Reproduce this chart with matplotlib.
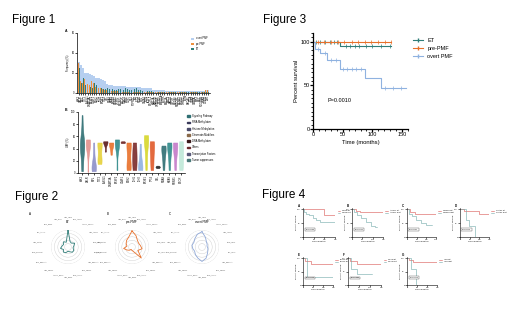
import matplotlib
matplotlib.use("Agg")
import matplotlib.pyplot as plt
import numpy as np

W, H = 520, 314
plt.rcParams["font.family"] = ["Liberation Sans", "DejaVu Sans"]

# ---------------- Figure 1A: mutation counts per gene ----------------
genes_1a = ["JAK2", "CALR", "MPL", "TET2", "ASXL1", "DNMT3A", "SRSF2", "U2AF1", "EZH2", "IDH1",
            "IDH2", "SF3B1", "TP53", "CBL", "NRAS", "KRAS", "SH2B3", "RUNX1", "ZRSR2", "SETBP1",
            "BCOR", "STAG2", "PHF6", "CUX1", "NF1", "PTPN11", "KIT", "FLT3", "NPM1", "WT1",
            "GATA2", "ETV6", "IKZF1", "BCORL1", "KMT2A", "KMT2D", "CREBBP", "EP300", "ARID1A", "ATRX",
            "SMC1A", "SMC3", "RAD21", "CSF3R", "MYD88", "NOTCH1", "FBXW7", "PPM1D", "CHEK2", "ATM",
            "BRCA2", "PIGA", "GNAS", "CEBPA", "JAK3", "MYC", "PDGFRA", "HRAS", "DDX41", "LNK"]
overt_1a = [31, 28, 25, 20, 20, 19, 18, 17, 15, 15, 14, 13, 12, 9, 8, 8, 7, 7, 7, 7,
            7, 7, 6, 6, 6, 6, 6, 6, 6, 5, 5, 5, 5, 5, 3, 3, 3, 3, 3, 3,
            2, 2, 2, 2, 2, 2, 2, 2, 2, 2, 2, 2, 2, 2, 2, 2, 2, 2, 3, 3]
pre_1a = [30, 12, 10, 14, 9, 8, 12, 10, 6, 5, 5, 4, 3, 3, 2, 2, 2, 2, 2, 1,
          1, 1, 1, 1, 1, 1, 1, 1, 1, 1, 1, 1, 1, 1, 1, 1, 1, 1, 1, 1,
          1, 1, 1, 1, 1, 1, 1, 1, 1, 1, 1, 1, 1, 1, 1, 1, 1, 1, 3, 3]
et_1a = [25, 10, 15, 8, 12, 6, 5, 10, 8, 6, 5, 4, 4, 5, 4, 4, 3, 3, 4, 4,
         3, 5, 4, 3, 3, 4, 5, 3, 3, 2, 2, 2, 2, 2, 1, 1, 1, 1, 1, 1,
         1, 1, 1, 1, 1, 1, 1, 1, 1, 1, 1, 1, 1, 1, 1, 1, 1, 1, 1, 1]

# ---------------- Figure 1B: VAF violins ----------------
genes_1b = ["JAK2", "CALR", "MPL", "TET2", "ASXL1", "DNMT3A", "SRSF2", "U2AF1", "EZH2",
            "IDH1", "IDH2", "SF3B1", "TP53", "CBL", "NRAS", "KRAS", "RUNX1", "BCOR"]
vaf_1b = [
    [3, 5, 10, 20, 30, 35, 38, 40, 42, 45, 45, 48, 50, 52, 55, 60, 70, 85, 95],
    [2, 30, 40, 45, 48, 50, 52, 53, 55],
    [3, 5, 6, 8, 10, 12, 20, 35, 50],
    [15, 18, 20, 22, 35, 47, 48, 50, 50],
    [35, 48, 50, 51, 52, 52],
    [30, 40, 45, 48, 50, 50],
    [5, 40, 45, 50, 52, 55, 55],
    [49, 50, 51, 52],
    [5, 8, 10, 12, 30, 45, 48, 50, 50],
    [5, 25, 50],
    [5, 6, 8, 10, 15, 30, 48],
    [5, 20, 40, 50, 55, 58, 60, 62],
    [5, 15, 30, 45, 50, 52],
    [8, 9, 10, 10, 11, 12],
    [5, 20, 35, 40, 42, 45],
    [5, 25, 40, 45, 48, 50],
    [5, 30, 45, 48, 50],
    [5, 10, 20, 30, 40, 50, 52],
]
colors_1b = ["#2f6f73", "#e3908c", "#8c8fc8", "#e6d13a", "#5a1a1a", "#e8702a", "#2f8a8a", "#6b2020",
             "#e8702a", "#7a2a2a", "#8fb2e0", "#d6d62a", "#e05a2a", "#222222", "#2f6f73", "#2f8a8a",
             "#c47ac8", "#bfe8d8"]
pathways = ["Signaling Pathway", "RNA Methylation", "Histone Methylation", "Chromatin Modifiers",
            "DNA Methylation", "Others", "Transcription Factors", "Tumor suppressors"]
pathway_colors = ["#2f6f73", "#3a3a5a", "#4a4a6a", "#8a6a4a", "#3a1a1a", "#6a2a2a", "#5a5a7a", "#4a7a7a"]

# ---------------- Figure 2: radar charts ----------------
pairs = ["JAK2_TET2", "TET2_ASXL1", "ASXL1_SRSF2", "JAK2_ASXL1", "CALR_TET2", "MPL_TET2",
         "JAK2_DNMT3A", "TET2_SRSF2", "CALR_ASXL1", "JAK2_EZH2", "ASXL1_EZH2", "JAK2_SRSF2",
         "TET2_DNMT3A", "CALR_DNMT3A", "JAK2_U2AF1", "MPL_ASXL1", "TET2_EZH2", "JAK2_IDH2"]
radar_et = [1.0, 0.35, 0.3, 0.45, 0.35, 0.3, 0.4, 0.4, 0.3, 0.25, 0.35, 0.4, 0.3, 0.45, 0.35, 0.3, 0.4, 0.3]
radar_pre = [0.95, 0.7, 0.5, 0.45, 0.5, 0.6, 0.4, 0.85, 0.3, 0.2, 0.15, 0.25, 0.35, 0.5, 0.3, 0.4, 0.5, 0.6]
radar_overt = [0.9, 0.6, 0.4, 0.35, 0.3, 0.35, 0.4, 0.5, 0.7, 0.85, 0.7, 0.6, 0.5, 0.55, 0.6, 0.55, 0.65, 0.8]

# ---------------- Figure 3: overall survival ----------------
et_t = [0, 45, 132]
et_s = [100, 95, 95]
et_cens = [5, 12, 20, 28, 35, 40, 55, 62, 70, 78, 90, 100, 115, 130]
pre_t = [0, 132]
pre_s = [100, 100]
pre_cens = [8, 18, 30, 42, 52, 65, 75, 88, 98, 110, 122, 131]
overt_t = [0, 3, 12, 23, 45, 87, 114, 156]
overt_s = [100, 92, 87, 79, 69, 59, 47, 47]
overt_cens = [8, 20, 30, 38, 50, 58, 65, 72, 80, 122, 135, 148]

# ---------------- Figure 4: subgroup survival ----------------
panels_4 = ["A", "B", "C", "D", "E", "F", "G"]
legend_4 = [("TET2 wt", "TET2 mut"), ("ASXL1 wt", "ASXL1 mut"), ("SRSF2 wt", "SRSF2 mut"),
            ("U2AF1 wt", "U2AF1 mut"), ("EZH2 wt", "EZH2 mut"), ("TP53 wt", "TP53 mut"),
            ("IDH wt", "IDH mut")]
red_t = [[0, 100, 150], [0, 20, 40, 150], [0, 15, 40, 150], [0, 20, 100, 150],
         [0, 10, 40, 150], [0, 10, 40, 150], [0, 10, 30, 150]]
red_s = [[100, 78, 78], [100, 95, 90, 90], [100, 90, 84, 84], [100, 95, 85, 85],
         [100, 90, 80, 80], [100, 90, 80, 80], [100, 92, 88, 88]]
teal_t = [[0, 5, 15, 30, 45, 60, 80, 150], [0, 10, 25, 45, 70, 90, 110, 120],
          [0, 10, 25, 45, 70, 100, 130], [0, 30, 45, 75, 75],
          [0, 20, 150], [0, 15, 40, 110], [0, 20, 45, 45]]
teal_s = [[100, 92, 85, 78, 70, 60, 55, 55], [100, 90, 80, 70, 55, 40, 35, 35],
          [100, 85, 75, 62, 52, 45, 45], [100, 60, 40, 0, 0],
          [100, 30, 30], [100, 60, 40, 40], [100, 60, 0, 0]]
pvals_4 = ["P=0.0032", "P=0.0011", "P=0.0087", "P<0.0001", "P=0.0002", "P=0.0145", "P<0.0001"]


def rect(x0, y0, x1, y1):
    return [x0 / W, 1 - y1 / H, (x1 - x0) / W, (y1 - y0) / H]


def clean(ax, lw=0.5, fs=2):
    for s in ["top", "right"]:
        ax.spines[s].set_visible(False)
    for s in ["left", "bottom"]:
        ax.spines[s].set_linewidth(lw)
    ax.tick_params(labelsize=fs, width=lw, length=1.2, pad=0.5)


fig = plt.figure(figsize=(W / 100, H / 100), dpi=100)
fig.patch.set_facecolor("white")

for txt, x, y in [("Figure 1", 12, 20), ("Figure 2", 15, 197), ("Figure 3", 263, 20), ("Figure 4", 262, 195)]:
    fig.text(x / W, 1 - y / H, txt, fontsize=8.5, va="center", ha="left")

# Figure 1A
ax = fig.add_axes(rect(77, 33, 210, 93))
x = np.arange(len(genes_1a))
ax.bar(x, overt_1a, width=1.0, color="#a9c7ee", alpha=0.85, label="overt PMF")
ax.bar(x - 0.2, pre_1a, width=0.4, color="#f0903c", label="pre-PMF")
ax.bar(x + 0.2, et_1a, width=0.4, color="#2f7d78", label="ET")
ax.set_xlim(-0.8, len(genes_1a) - 0.2)
ax.set_ylim(0, 60)
ax.set_yticks([0, 20, 40, 60])
ax.set_xticks(x)
ax.set_xticklabels(genes_1a, rotation=90, fontsize=0.9)
ax.set_ylabel("Frequency (%)", fontsize=1.8, labelpad=1)
clean(ax, fs=1.8)
ax.legend(loc="upper right", fontsize=1.8, frameon=False, handlelength=1, handleheight=0.8,
          bbox_to_anchor=(1.0, 0.98))
fig.text(65 / W, 1 - 32 / H, "A", fontsize=2.5, fontweight="bold")

# Figure 1B
ax = fig.add_axes(rect(78, 112, 185, 173))
pos = np.arange(1, len(genes_1b) + 1)
parts = ax.violinplot(vaf_1b, positions=pos, widths=0.75, showextrema=False)
for body, c in zip(parts["bodies"], colors_1b):
    body.set_facecolor(c)
    body.set_edgecolor(c)
    body.set_alpha(0.9)
    body.set_linewidth(0.4)
ax.set_xlim(0.3, len(genes_1b) + 0.7)
ax.set_ylim(0, 100)
ax.set_yticks([0, 20, 40, 60, 80, 100])
ax.set_xticks(pos)
ax.set_xticklabels(genes_1b, rotation=90, fontsize=1.2)
ax.set_ylabel("VAF (%)", fontsize=1.8, labelpad=1)
clean(ax, fs=1.8)
handles = [plt.Rectangle((0, 0), 1, 1, color=c) for c in pathway_colors]
ax.legend(handles, pathways, loc="upper left", bbox_to_anchor=(1.0, 1.0), fontsize=1.8,
          frameon=False, handlelength=1.2, handleheight=0.7, labelspacing=0.9)
fig.text(65 / W, 1 - 111 / H, "B", fontsize=2.5, fontweight="bold")

# Figure 2 radars
theta = np.linspace(0, 2 * np.pi, len(pairs), endpoint=False)
radars = [(radar_et, "ET", "#2f7d78", 68, "A", 30),
          (radar_pre, "pre-PMF", "#e8702a", 132, "B", 108),
          (radar_overt, "overt PMF", "#8fa8d8", 202, "C", 170)]
for vals, title, col, cx, letter, lx in radars:
    r = 17
    ax = fig.add_axes(rect(cx - r, 247 - r, cx + r, 247 + r), projection="polar")
    ax.set_theta_zero_location("N")
    ax.set_theta_direction(-1)
    v = np.append(vals, vals[0])
    t = np.append(theta, theta[0])
    ax.plot(t, v, color=col, lw=0.6)
    ax.set_ylim(0, 1.0)
    ax.set_yticks([0.2, 0.4, 0.6, 0.8, 1.0])
    ax.set_yticklabels([])
    ax.yaxis.grid(True, color="#cccccc", lw=0.3)
    ax.xaxis.grid(False)
    ax.spines["polar"].set_visible(False)
    ax.set_xticks(theta)
    ax.set_xticklabels(pairs, fontsize=1.2, color="#555555")
    ax.tick_params(pad=-1)
    fig.text(cx / W, 1 - 222 / H, title, fontsize=2.2, ha="center", va="center")
    fig.text(lx / W, 1 - 214 / H, letter, fontsize=2.2, ha="center", va="center")

# Figure 3 KM
ax = fig.add_axes(rect(313, 33, 408, 129))
series3 = [(et_t, et_s, et_cens, "#2f7d78", "ET"),
           (pre_t, pre_s, pre_cens, "#e8702a", "pre-PMF"),
           (overt_t, overt_s, overt_cens, "#8fb2e0", "overt PMF")]
for t, s, cens, col, lab in series3:
    ax.step(t, s, where="post", color=col, lw=0.8, label=lab)
    cy = [s[np.searchsorted(t, c, side="right") - 1] for c in cens]
    ax.plot(cens, cy, ls="none", marker="|", ms=2.2, mew=0.5, color=col)
ax.set_xlim(0, 160)
ax.set_ylim(0, 110)
ax.set_xticks([0, 50, 100, 150])
ax.set_yticks([0, 50, 100])
ax.set_xticks(np.arange(0, 161, 10), minor=True)
ax.set_yticks(np.arange(0, 111, 5), minor=True)
clean(ax, lw=0.9, fs=4)
ax.tick_params(which="minor", width=0.6, length=1.2)
ax.tick_params(which="major", width=0.9, length=2)
ax.set_xlabel("Time (months)", fontsize=4.2, labelpad=2)
ax.set_ylabel("Percent survival", fontsize=4.2, labelpad=1)
ax.text(25, 31, "P=0.0010", fontsize=4)
leg_handles = [plt.Line2D([], [], color=c, lw=0.8, marker="|", ms=2.5) for _, _, _, c, _ in series3]
ax.legend(leg_handles, [sr[4] for sr in series3], loc="upper left", bbox_to_anchor=(1.0, 1.0),
          fontsize=4, frameon=False, handlelength=1.8, labelspacing=0.5)

# Figure 4 small KM panels
boxes4 = [(303, 208, 335, 237), (352, 208, 383, 237), (407, 208, 436, 237), (460, 208, 489, 237),
          (303, 257, 333, 285), (348, 257, 381, 285), (407, 257, 437, 285)]
for i, (x0, y0, x1, y1) in enumerate(boxes4):
    ax = fig.add_axes(rect(x0, y0, x1, y1))
    ax.step(red_t[i], red_s[i], where="post", color="#d9534f", lw=0.4)
    ax.step(teal_t[i], teal_s[i], where="post", color="#6fa7a8", lw=0.4)
    ax.set_xlim(0, 150)
    ax.set_ylim(0, 105)
    ax.set_xticks([0, 50, 100, 150])
    ax.set_yticks([0, 50, 100])
    clean(ax, lw=0.4, fs=1.5)
    ax.set_xlabel("Time (months)", fontsize=1.5, labelpad=0.5)
    ax.set_ylabel("Percent survival", fontsize=1.5, labelpad=0.5)
    ax.text(12, 25, pvals_4[i], fontsize=1.5,
            bbox=dict(boxstyle="square,pad=0.4", fc="white", ec="#555555", lw=0.3))
    hl = [plt.Line2D([], [], color=c, lw=0.4) for c in ("#d9534f", "#6fa7a8")]
    ax.legend(hl, legend_4[i], loc="upper left", bbox_to_anchor=(1.02, 1.0), fontsize=1.5,
              frameon=False, handlelength=1.2, labelspacing=0.3)
    fig.text((x0 - 4) / W, 1 - (y0 - 2) / H, panels_4[i], fontsize=2.2, fontweight="bold",
             ha="center", va="center")

fig.savefig("out.png", dpi=100)
